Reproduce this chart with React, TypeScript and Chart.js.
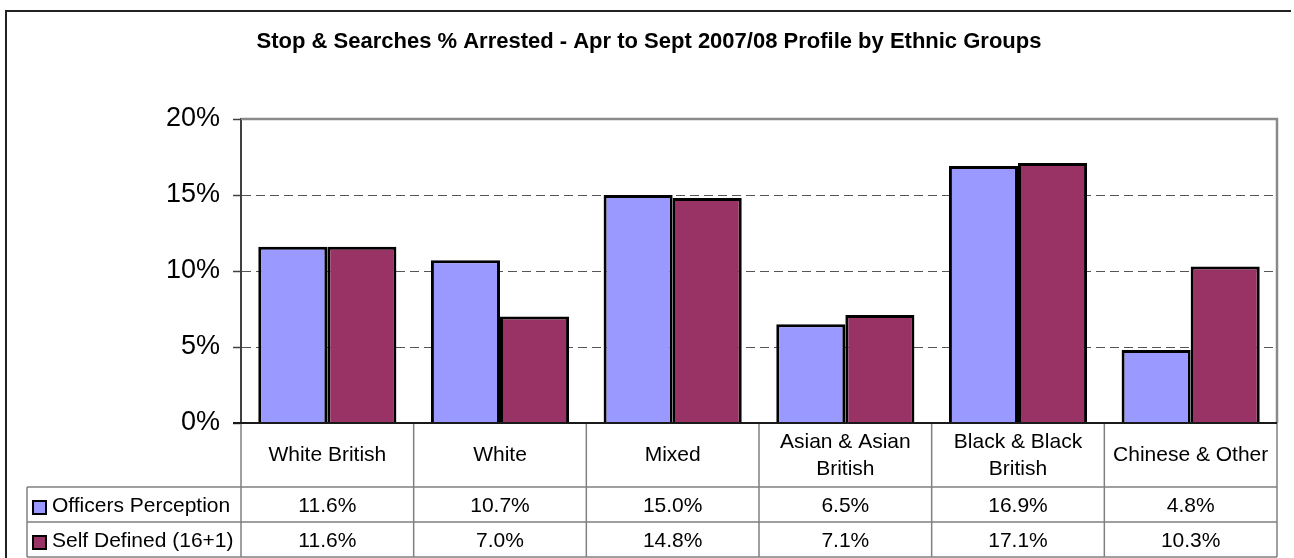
import React, { useEffect, useRef } from 'react';
import { Chart, registerables } from 'chart.js';

Chart.register(...registerables);

const chartTitle = 'Stop & Searches % Arrested - Apr to Sept 2007/08 Profile by Ethnic Groups';
const categories: string[][] = [
  ['White British'],
  ['White'],
  ['Mixed'],
  ['Asian & Asian', 'British'],
  ['Black & Black', 'British'],
  ['Chinese & Other'],
];
const seriesNames = ['Officers Perception', 'Self Defined (16+1)'];
const officersPerception = [11.6, 10.7, 15.0, 6.5, 16.9, 4.8];
const selfDefined = [11.6, 7.0, 14.8, 7.1, 17.1, 10.3];
const seriesColors = ['#9999FF', '#993366'];
const yMin = 0;
const yMax = 20;
const yStep = 5;

const FONT = "'Liberation Sans', Arial, sans-serif";

const tablePlugin = {
  id: 'excelTable',
  afterDraw(chart: any) {
    const ctx: CanvasRenderingContext2D = chart.ctx;
    const { left, right, top, bottom } = chart.chartArea;
    const xs = chart.scales.x;
    const n = categories.length;
    const step = n > 1 ? xs.getPixelForValue(1) - xs.getPixelForValue(0) : right - left;
    const headerBottom = bottom + 64;
    const row1Bottom = headerBottom + 35;
    const row2Bottom = row1Bottom + 35;
    const legendLeft = 27;

    ctx.save();
    // outer frame
    ctx.strokeStyle = '#222';
    ctx.lineWidth = 2;
    ctx.beginPath();
    ctx.moveTo(6, 600);
    ctx.lineTo(6, 11);
    ctx.lineTo(1291, 11);
    ctx.stroke();

    // title
    ctx.fillStyle = '#000';
    ctx.font = `bold 22px ${FONT}`;
    ctx.textAlign = 'center';
    ctx.textBaseline = 'alphabetic';
    ctx.fillText(chartTitle, 649, 48);

    // plot frame top / right
    ctx.strokeStyle = '#8a8a8a';
    ctx.lineWidth = 2.5;
    ctx.beginPath();
    ctx.moveTo(left, top);
    ctx.lineTo(right, top);
    ctx.lineTo(right, bottom);
    ctx.stroke();

    // table lines
    ctx.strokeStyle = '#808080';
    ctx.lineWidth = 1.5;
    ctx.beginPath();
    for (let i = 0; i <= n; i++) {
      const x = i === 0 ? left : i === n ? right : xs.getPixelForValue(i) - step / 2;
      ctx.moveTo(x, bottom);
      ctx.lineTo(x, row2Bottom);
    }
    ctx.moveTo(right, bottom);
    ctx.lineTo(right, row2Bottom);
    [headerBottom, row1Bottom, row2Bottom].forEach((y) => {
      ctx.moveTo(legendLeft, y);
      ctx.lineTo(right, y);
    });
    ctx.moveTo(legendLeft, headerBottom);
    ctx.lineTo(legendLeft, row2Bottom);
    ctx.stroke();

    // x axis line at 0
    const y0 = chart.scales.y.getPixelForValue(0);
    ctx.strokeStyle = '#1a1a1a';
    ctx.lineWidth = 2;
    ctx.beginPath();
    ctx.moveTo(left - 8, y0);
    ctx.lineTo(right, y0);
    ctx.stroke();

    // header text
    ctx.fillStyle = '#000';
    ctx.font = `21px ${FONT}`;
    ctx.textAlign = 'center';
    categories.forEach((lines, i) => {
      const cx = xs.getPixelForValue(i);
      if (lines.length === 1) {
        ctx.fillText(lines[0], cx, bottom + 38);
      } else {
        ctx.fillText(lines[0], cx, bottom + 25);
        ctx.fillText(lines[1], cx, bottom + 52);
      }
    });

    // data rows
    const rows = [officersPerception, selfDefined];
    const rowTops = [headerBottom, row1Bottom];
    rows.forEach((vals, r) => {
      const rt = rowTops[r];
      ctx.textAlign = 'center';
      ctx.fillStyle = '#000';
      vals.forEach((v, i) => {
        ctx.fillText(v.toFixed(1) + '%', xs.getPixelForValue(i), rt + 25);
      });
      // legend swatch
      ctx.fillStyle = seriesColors[r];
      ctx.fillRect(33, rt + 14, 13, 13);
      ctx.strokeStyle = '#000';
      ctx.lineWidth = 2;
      ctx.strokeRect(33, rt + 14, 13, 13);
      ctx.fillStyle = '#000';
      ctx.textAlign = 'left';
      ctx.fillText(seriesNames[r], 52, rt + 25);
    });
    ctx.restore();
  },
};

export default function App() {
  const ref = useRef<HTMLCanvasElement | null>(null);
  useEffect(() => {
    if (!ref.current) return;
    const chart = new Chart(ref.current, {
      type: 'bar',
      data: {
        labels: categories.map((c) => c.join(' ')),
        datasets: [
          {
            label: seriesNames[0],
            data: officersPerception,
            backgroundColor: seriesColors[0],
            borderColor: '#000',
            borderWidth: 3,
            categoryPercentage: 0.8,
            barPercentage: 1.0,
          },
          {
            label: seriesNames[1],
            data: selfDefined,
            backgroundColor: seriesColors[1],
            borderColor: '#000',
            borderWidth: 3,
            categoryPercentage: 0.8,
            barPercentage: 1.0,
          },
        ],
      },
      options: {
        animation: false,
        responsive: false,
        maintainAspectRatio: false,
        layout: { padding: { left: 0, right: 17, top: 119, bottom: 135 } },
        plugins: {
          legend: { display: false },
          title: { display: false },
          tooltip: { enabled: false },
        },
        scales: {
          x: { display: false },
          y: {
            min: yMin,
            max: yMax,
            afterFit: (scale: any) => {
              scale.width = 241;
            },
            ticks: {
              stepSize: yStep,
              padding: 13,
              color: '#000',
              font: { family: FONT, size: 27 },
              callback: (v: any) => v + '%',
            },
            grid: {
              color: (c: any) =>
                c.tick && (c.tick.value === yMin || c.tick.value === yMax) ? 'rgba(0,0,0,0)' : '#555',
              lineWidth: 1,
              tickLength: 8,
              tickColor: '#404040',
              tickWidth: 1.5,
            },
            border: { display: true, color: '#404040', width: 2, dash: [9, 5] },
          },
        },
      },
      plugins: [tablePlugin],
    });
    return () => chart.destroy();
  }, []);
  return (
    <div style={{ position: 'fixed', left: 0, top: 0, width: 1294, height: 558, background: '#fff' }}>
      <canvas ref={ref} width={1294} height={558} style={{ width: 1294, height: 558, display: 'block' }} />
    </div>
  );
}
